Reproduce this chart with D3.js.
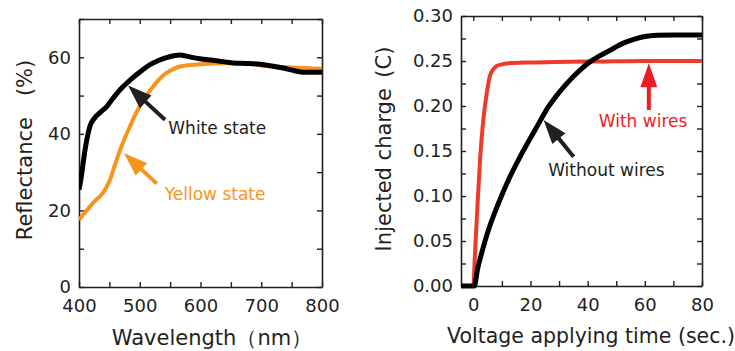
<!DOCTYPE html>
<html><head><meta charset="utf-8">
<script src="https://cdn.jsdelivr.net/npm/d3@7"></script>
<style>
html,body{margin:0;padding:0;background:#fff;}
text{font-family:"DejaVu Sans",sans-serif;fill:#231f20;}
</style></head>
<body>
<svg id="c" width="735" height="351"></svg>
<script>
// ---- Left chart data: Reflectance vs wavelength ----
const wavelengthWhite = [400,403,410,418,426,435,446,456,468,481,495,506,517,530,544,556,566,577,588,599,620,640,654,675,698,715,736,755,769,785,800];
const reflWhite       = [25.4,28,35.9,42,44.2,45.6,47.2,49.3,51.6,53.6,55.5,56.9,58.1,59.1,59.9,60.4,60.6,60.3,59.9,59.6,59.2,58.8,58.5,58.4,58.2,57.8,57.2,56.5,56.1,56.1,56.1];
const wavelengthYellow= [400,410,418,427,437,444,451,459,468,476,484,492,500,511,522,533,544,555,566,580,594,620,654,680,709,740,770,800];
const reflYellow      = [17.5,19.5,21,22.6,24.1,25.7,28,31.8,35.9,39.1,42,44.8,47.2,50,52.4,54.4,55.9,56.9,57.6,57.9,58.1,58.4,58.5,58.3,57.7,57.4,57.2,57];
const leftYTicks = [0,10,20,30,40,50,60,70];
const leftXTicks = [400,450,500,550,600,650,700,750,800];

// ---- Right chart data: Injected charge vs time ----
const timeWith   = [-4.3,0,0.6,1.2,2.35,3.5,4.7,5.9,7,8.2,10,12.3,20,28.7,45,60,70,80];
const chargeWith = [0,0,0.037,0.0733,0.14,0.1844,0.2141,0.2344,0.2410,0.2444,0.2463,0.2474,0.2484,0.249,0.2495,0.25,0.25,0.25];
const timeWithout   = [-4.3,0.35,1.5,2.9,5.3,8.8,12.3,17,21.6,26.3,32.2,38,40.9,44,47.9,50.8,53.8,56.7,59.6,62,64.3,70,80];
const chargeWithout = [0,0,0.019,0.0363,0.0622,0.0919,0.1178,0.1474,0.1733,0.1992,0.2233,0.2419,0.2493,0.2555,0.262,0.2672,0.2715,0.2746,0.277,0.278,0.2785,0.2789,0.2789];
const rightYTicks = [0,0.025,0.05,0.075,0.1,0.125,0.15,0.175,0.2,0.225,0.25,0.275,0.3];
const rightXTicks = [0,10,20,30,40,50,60,70,80];

// annotations (positions in data units)
const leftNotes = [
  {label:"White state", tail:[541.6,43.7], head:[480.7,52.6], text:[547,40], color:"#231f20", tcolor:"#231f20"},
  {label:"Yellow state", tail:[528,27], head:[474,35], text:[541,22.8], color:"#f7941d", tcolor:"#f7941d"}
];
const rightNotes = [
  {label:"With wires", tail:[61.4,0.1956], head:[61.4,0.2474], text:[43.9,0.1763], color:"#ed1c24", tcolor:"#ed1c24"},
  {label:"Without wires", tail:[35.1,0.1437], head:[24.6,0.1844], text:[26.2,0.122], color:"#231f20", tcolor:"#231f20"}
];

const svg = d3.select("#c");
const ink = "#231f20";

function arrowhead(g, x1,y1,x2,y2,color,len,wid){
  const ang = Math.atan2(y2-y1,x2-x1);
  const bx = x2 - len*Math.cos(ang), by = y2 - len*Math.sin(ang);
  const px = -Math.sin(ang)*wid/2, py = Math.cos(ang)*wid/2;
  g.append("line").attr("x1",x1).attr("y1",y1).attr("x2",bx+ (x2-bx)*0.2).attr("y2",by+(y2-by)*0.2)
    .attr("stroke",color).attr("stroke-width",4);
  g.append("path").attr("d",`M${x2},${y2}L${bx+px},${by+py}L${bx-px},${by-py}Z`).attr("fill",color);
}

function panel(opt){
  const g = svg.append("g");
  const x = d3.scaleLinear().domain(opt.xDomain).range([opt.x0,opt.x1]);
  const y = d3.scaleLinear().domain(opt.yDomain).range([opt.y1,opt.y0]);
  const ax = (axis, tr) => {
    const a = g.append("g").attr("transform",tr).call(axis);
    a.select(".domain").attr("stroke",ink).attr("stroke-width",1.6);
    a.selectAll(".tick line").attr("stroke",ink).attr("stroke-width",1.4);
    a.selectAll("text").style("font-size","18px").attr("fill",ink).style("font-family","DejaVu Sans");
    return a;
  };
  ax(d3.axisBottom(x).tickValues(opt.xTicks).tickSize(-5).tickSizeOuter(0).tickPadding(12).tickFormat(opt.xFmt),`translate(0,${opt.y1})`);
  ax(d3.axisTop(x).tickValues(opt.xTicks).tickSize(-5).tickSizeOuter(0).tickFormat(""),`translate(0,${opt.y0})`);
  ax(d3.axisLeft(y).tickValues(opt.yTicks).tickSize(-5).tickSizeOuter(0).tickPadding(8).tickFormat(opt.yFmt),`translate(${opt.x0},0)`);
  ax(d3.axisRight(y).tickValues(opt.yTicks).tickSize(-5).tickSizeOuter(0).tickFormat(""),`translate(${opt.x1},0)`);

  const clip = "clip"+opt.id;
  g.append("clipPath").attr("id",clip).append("rect").attr("x",opt.x0).attr("y",opt.y0-4).attr("width",opt.x1-opt.x0).attr("height",opt.y1-opt.y0+8);
  opt.series.forEach(s=>{
    const line = d3.line().x((d,i)=>x(s.xs[i])).y((d,i)=>y(s.ys[i])).curve(d3.curveMonotoneX);
    g.append("path").attr("clip-path",`url(#${clip})`).attr("d",line(s.ys)).attr("fill","none")
      .attr("stroke",s.color).attr("stroke-width",s.w).attr("stroke-linejoin","round");
  });
  opt.notes.forEach(n=>{
    arrowhead(g, x(n.tail[0]),y(n.tail[1]),x(n.head[0]),y(n.head[1]),n.color,24,17);
    g.append("text").attr("x",x(n.text[0])).attr("y",y(n.text[1])).text(n.label)
      .style("font-size","17px").style("fill",n.tcolor);
  });
  g.append("text").attr("transform",`translate(${opt.ytx},${opt.ytc}) rotate(-90)`)
    .attr("text-anchor","middle").style("font-size","21px").text(opt.yTitle);
  g.append("text").attr("x",opt.xtx).attr("y",opt.xty).attr("text-anchor","middle")
    .style("font-size",opt.xfs).text(opt.xTitle);
}

panel({id:"L", x0:79, x1:322, y0:19, y1:287, xDomain:[400,800], yDomain:[0,70],
  xTicks:leftXTicks, yTicks:leftYTicks,
  xFmt:d=> d%100===0? d3.format("d")(d):"", yFmt:d=> d%20===0? d3.format("d")(d):"",
  series:[{xs:wavelengthYellow, ys:reflYellow, color:"#f7941d", w:4},
          {xs:wavelengthWhite, ys:reflWhite, color:"#000", w:5}],
  notes:leftNotes, yTitle:"Reflectance\u3000(%)", ytx:32, ytc:150, xTitle:"Wavelength\uFF08nm\uFF09", xtx:212, xty:345, xfs:"21px"});

panel({id:"R", x0:461, x1:702, y0:16, y1:286, xDomain:[-4.3,80], yDomain:[0,0.3],
  xTicks:rightXTicks, yTicks:rightYTicks,
  xFmt:d=> d%20===0? d3.format("d")(d):"", yFmt:d=> (Math.round(d*1000)%50===0)? d3.format(".2f")(d):"",
  series:[{xs:timeWith, ys:chargeWith, color:"#ee3a2b", w:4},
          {xs:timeWithout, ys:chargeWithout, color:"#000", w:5}],
  notes:rightNotes, yTitle:"Injected charge\u2002(C)", ytx:391, ytc:149, xTitle:"Voltage applying time (sec.)", xtx:591, xty:343, xfs:"20.5px"});
</script>
</body></html>
